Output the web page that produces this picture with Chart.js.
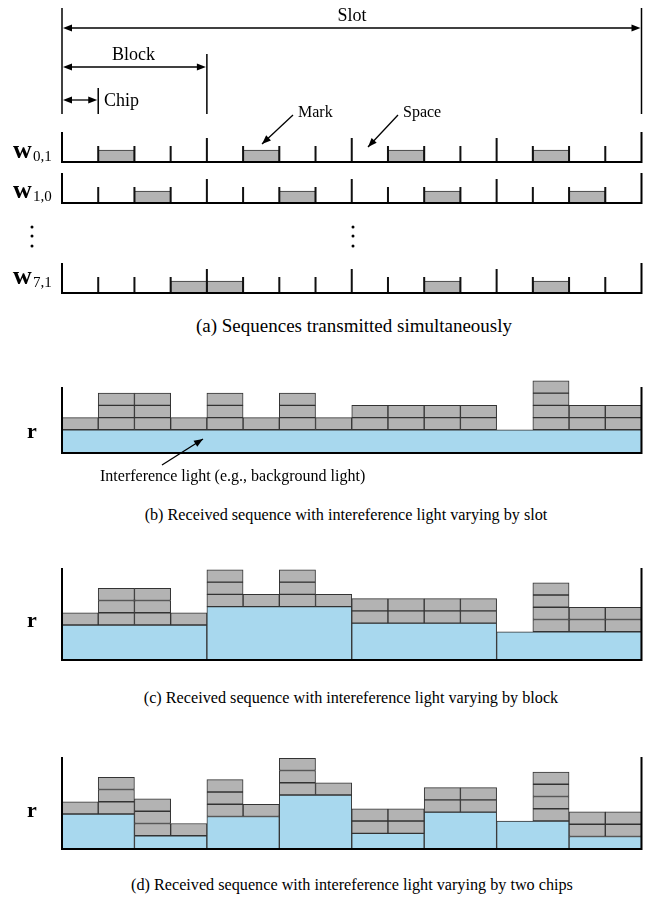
<!DOCTYPE html>
<html lang="en">
<head>
<meta charset="UTF-8">
<title>Sequences with interference light</title>
<style>
  body { margin: 0; background: #fff; }
  #page { position: relative; width: 652px; height: 899px; overflow: hidden;
          font-family: 'Liberation Serif', 'DejaVu Serif', serif; color: #000; }
  #page canvas { position: absolute; left: 0; }
  .t { position: absolute; white-space: nowrap; line-height: 1; }
  .c { transform: translateX(-50%); }
  .cap { font-size: 18px; }
  .capA { font-size: 19px; }
  .capR { font-size: 16.2px; }
  .w { font-size: 26px; font-weight: bold; }
  .sub { font-size: 15px; }
  .r { font-size: 22px; font-weight: bold; }
  .note { font-size: 16px; }
</style>
</head>
<body>
<div id="page">
  <canvas id="seq0" width="652" height="50" style="top:120px"></canvas>
  <canvas id="seq1" width="652" height="50" style="top:161px"></canvas>
  <canvas id="seq2" width="652" height="50" style="top:251px"></canvas>
  <canvas id="recvB" width="652" height="110" style="top:370px"></canvas>
  <canvas id="recvC" width="652" height="120" style="top:550px"></canvas>
  <canvas id="recvD" width="652" height="120" style="top:740px"></canvas>
  <canvas id="dims" width="652" height="300" style="top:0px"></canvas>

  <div class="t cap c" style="left:352px;top:6px">Slot</div>
  <div class="t cap" style="left:112px;top:45px">Block</div>
  <div class="t cap" style="left:104px;top:91px">Chip</div>
  <div class="t note" style="left:298px;top:104px">Mark</div>
  <div class="t note" style="left:403px;top:104px">Space</div>

  <div class="t w" style="left:13px;top:137px">w</div><div class="t sub" style="left:33px;top:149px">0,1</div>
  <div class="t w" style="left:13px;top:177px">w</div><div class="t sub" style="left:33px;top:189px">1,0</div>
  <div class="t w" style="left:13px;top:263px">w</div><div class="t sub" style="left:33px;top:275px">7,1</div>

  <div class="t r" style="left:27px;top:420px">r</div>
  <div class="t r" style="left:27px;top:609px">r</div>
  <div class="t r" style="left:27px;top:799px">r</div>

  <div class="t note" style="left:100px;top:468px">Interference light (e.g., background light)</div>

  <div class="t capA c" style="left:354px;top:316px">(a) Sequences transmitted simultaneously</div>
  <div class="t capR c" style="left:346px;top:507px">(b) Received sequence with intereference light varying by slot</div>
  <div class="t capR c" style="left:351px;top:690px">(c) Received sequence with intereference light varying by block</div>
  <div class="t capR c" style="left:352px;top:877px">(d) Received sequence with intereference light varying by two chips</div>
</div>

<script src="https://cdn.jsdelivr.net/npm/chart.js"></script>
<script>
    // 16 chips per slot, 4 blocks of 4 chips
    const chipCount = 16;
    const chipsPerBlock = 4;

    // transmitted sequences (1 = mark, 0 = space)
    const w01 = [0, 1, 0, 0, 0, 1, 0, 0, 0, 1, 0, 0, 0, 1, 0, 0];
    const w10 = [0, 0, 1, 0, 0, 0, 1, 0, 0, 0, 1, 0, 0, 0, 1, 0];
    const w71 = [0, 0, 0, 1, 1, 0, 0, 0, 0, 0, 1, 0, 0, 1, 0, 0];

    // number of marks piled on each chip at the receiver
    const receivedMarks = [1, 3, 3, 1, 3, 1, 3, 1, 2, 2, 2, 2, 0, 4, 2, 2];

    // interference light level, in units of one mark
    const lightSlot = [1.9];
    const lightBlock = [2.85, 4.35, 3.0, 2.3];
    const lightTwoChip = [2.85, 1.08, 2.65, 4.4, 1.28, 3.0, 2.28, 1.02];

    // tick heights in (a), in units of one mark
    const edgeTick = 2.5, blockTick = 2.0, chipTick = 1.33;

    const GRAY = '#b3b3b3';
    const BLUE = '#a8d8ee';
    const EDGE = '#333333';

    // draws arrows, guide lines and dots on top of a chart
    const annotate = {
        id: 'annotate',
        afterDraw(chart, args, opts) {
            const ctx = chart.ctx;
            const sx = chart.scales.x;
            const top = chart.canvas.offsetTop;
            const X = v => sx.getPixelForValue(v);
            ctx.save();
            ctx.strokeStyle = '#000';
            ctx.fillStyle = '#000';

            function head(x1, y1, x2, y2) {
                const a = Math.atan2(y2 - y1, x2 - x1);
                const len = 9, half = 3.5;
                ctx.beginPath();
                ctx.moveTo(x2, y2);
                ctx.lineTo(x2 - len * Math.cos(a) + half * Math.sin(a), y2 - len * Math.sin(a) - half * Math.cos(a));
                ctx.lineTo(x2 - len * Math.cos(a) - half * Math.sin(a), y2 - len * Math.sin(a) + half * Math.cos(a));
                ctx.closePath();
                ctx.fill();
            }

            (opts.guides || []).forEach(g => {
                ctx.lineWidth = 1.5;
                ctx.beginPath();
                ctx.moveTo(X(g.chip), g.y1 - top);
                ctx.lineTo(X(g.chip), g.y2 - top);
                ctx.stroke();
            });

            (opts.spans || []).forEach(s => {
                const a = X(s.from) + 1, b = X(s.to) - 1, y = s.y - top;
                ctx.lineWidth = 1.3;
                ctx.beginPath();
                ctx.moveTo(a + 4, y);
                ctx.lineTo(b - 4, y);
                ctx.stroke();
                head(b, y, a, y);
                head(a, y, b, y);
            });

            (opts.arrows || []).forEach(p => {
                ctx.lineWidth = 1.3;
                ctx.beginPath();
                ctx.moveTo(p[0], p[1] - top);
                ctx.lineTo(p[2], p[3] - top);
                ctx.stroke();
                head(p[0], p[1] - top, p[2], p[3] - top);
            });

            (opts.dots || []).forEach(d => {
                ctx.beginPath();
                ctx.arc(d[0], d[1] - top, 1.5, 0, Math.PI * 2);
                ctx.fill();
            });
            ctx.restore();
        }
    };

    function baseOptions(padTop, padBottom, yMax, groupWidth) {
        return {
            responsive: false,
            animation: false,
            events: [],
            layout: { padding: { left: 62, right: 10.5, top: padTop, bottom: padBottom } },
            plugins: { legend: { display: false }, tooltip: { enabled: false } },
            scales: {
                x: { type: 'linear', min: 0, max: chipCount, offset: false, display: false, ticks: { stepSize: 1 } },
                x2: { type: 'linear', min: 0, max: chipCount, offset: false, display: false, ticks: { stepSize: groupWidth } },
                y: { type: 'linear', min: 0, max: yMax, display: false }
            }
        };
    }

    // U shaped frame: left edge, baseline, right edge
    function frame(height) {
        return {
            type: 'line',
            data: [{ x: 0, y: height }, { x: 0, y: 0 }, { x: chipCount, y: 0 }, { x: chipCount, y: height }],
            borderColor: '#000', borderWidth: 2, pointRadius: 0, tension: 0,
            fill: false, clip: false, xAxisID: 'x'
        };
    }

    const boxStyle = {
        type: 'bar', xAxisID: 'x', backgroundColor: GRAY, borderColor: EDGE, borderWidth: 1,
        borderSkipped: false, barPercentage: 1, categoryPercentage: 1, grouped: false, clip: false
    };

    // (a) one chart per transmitted sequence
    function sequenceChart(id, seq) {
        const ticks = [];
        for (let i = 1; i < chipCount; i++) {
            ticks.push({ x: i, y: 0 }, { x: i, y: i % chipsPerBlock === 0 ? blockTick : chipTick }, { x: i, y: null });
        }
        const marks = [];
        seq.forEach((m, i) => { if (m) marks.push({ x: i + 0.5, y: [0, 1] }); });

        new Chart(document.getElementById(id), {
            type: 'bar',
            data: {
                datasets: [
                    frame(edgeTick),
                    { type: 'line', data: ticks, borderColor: '#111', borderWidth: 2, pointRadius: 0,
                      tension: 0, fill: false, clip: false, spanGaps: false, xAxisID: 'x' },
                    Object.assign({ data: marks }, boxStyle)
                ]
            },
            options: baseOptions(12, 8, edgeTick, chipCount)
        });
    }

    // (b)-(d) received sequences on top of interference light
    function receivedChart(id, light, padTop, padBottom, yMax, extra) {
        const groupWidth = chipCount / light.length;
        const boxes = [];
        receivedMarks.forEach((n, i) => {
            const base = light[Math.floor(i / groupWidth)];
            for (let k = 0; k < n; k++) boxes.push({ x: i + 0.5, y: [base + k, base + k + 1] });
        });
        const bg = light.map((v, j) => ({ x: (j + 0.5) * groupWidth, y: [0, v] }));

        const options = baseOptions(padTop, padBottom, yMax, groupWidth);
        if (extra) options.plugins.annotate = extra;

        new Chart(document.getElementById(id), {
            type: 'bar',
            data: {
                datasets: [
                    frame(yMax),
                    Object.assign({ data: boxes }, boxStyle),
                    Object.assign({}, boxStyle, { data: bg, xAxisID: 'x2', backgroundColor: BLUE })
                ]
            },
            options: options,
            plugins: extra ? [annotate] : []
        });
    }

    sequenceChart('seq0', w01);
    sequenceChart('seq1', w10);
    sequenceChart('seq2', w71);

    receivedChart('recvB', lightSlot, 17, 27, 5.4, { arrows: [[162, 465, 203, 439]] });
    receivedChart('recvC', lightBlock, 18, 10, 7.5);
    receivedChart('recvD', lightTwoChip, 17, 11, 7.5);

    // dimension lines and labels over panel (a)
    const dimOptions = baseOptions(0, 0, 1, chipCount);
    dimOptions.plugins.annotate = {
        guides: [
            { chip: 0, y1: 8, y2: 114 }, { chip: chipCount, y1: 8, y2: 114 },
            { chip: chipsPerBlock, y1: 54, y2: 114 }, { chip: 1, y1: 88, y2: 114 }
        ],
        spans: [
            { from: 0, to: chipCount, y: 28 },
            { from: 0, to: chipsPerBlock, y: 67 },
            { from: 0, to: 1, y: 100 }
        ],
        arrows: [[293, 115, 262, 144], [398, 115, 368, 147]],
        dots: [[32, 227], [32, 236], [32, 246], [353, 227], [353, 236], [353, 246]]
    };
    new Chart(document.getElementById('dims'), {
        type: 'bar',
        data: { datasets: [] },
        options: dimOptions,
        plugins: [annotate]
    });
</script>
</body>
</html>
